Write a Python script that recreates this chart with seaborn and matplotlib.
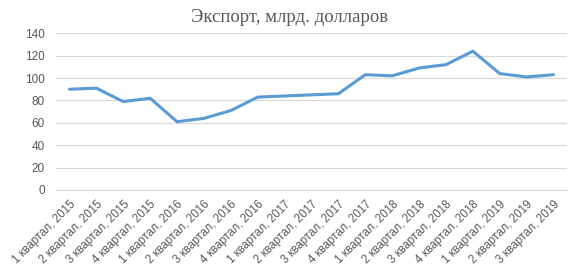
import matplotlib
matplotlib.use("Agg")
import matplotlib.pyplot as plt
import seaborn as sns
import pandas as pd

quarters = ["1 квартал", "2 квартал", "3 квартал", "4 квартал"]
years = [2015, 2015, 2015, 2015, 2016, 2016, 2016, 2016, 2017, 2017, 2017, 2017,
         2018, 2018, 2018, 2018, 2019, 2019, 2019]
labels = [f"{quarters[i % 4]}, {y}" for i, y in enumerate(years)]
export = [90, 91, 79, 82, 61, 64, 71, 83, 84, 85, 86, 103, 102, 109, 112, 124, 104, 101, 103]
title = "Экспорт, млрд. долларов"

sns.set_theme(style="whitegrid")
plt.rcParams['font.family'] = ['Liberation Sans', 'DejaVu Sans']

df = pd.DataFrame({"label": labels, "value": export, "idx": range(len(labels))})

fig = plt.figure(figsize=(5.81, 2.65), dpi=100)
ax = fig.add_axes([56/581, 1-190/265, (567-56)/581, (190-33.3)/265])
sns.lineplot(data=df, x="idx", y="value", ax=ax, color="#5B9BD5", linewidth=2.2)

ax.set_xlim(-0.5, len(labels)-0.5)
ax.set_ylim(0, 140)
ax.set_yticks(range(0, 141, 20))
ax.set_xticks(range(len(labels)))
ax.set_xticklabels(labels, rotation=45, ha="right", rotation_mode="anchor",
                   fontsize=8.3, color="#595959")
ax.tick_params(axis="y", labelsize=8.5, labelcolor="#595959", pad=8, length=0)
ax.tick_params(axis="x", pad=6, length=0)
ax.set_xlabel("")
ax.set_ylabel("")
ax.grid(axis="x", visible=False)
ax.grid(axis="y", color="#D9D9D9", linewidth=0.9)
for s in ["left", "right", "top"]:
    ax.spines[s].set_visible(False)
ax.spines["bottom"].set_color("#D9D9D9")
ax.spines["bottom"].set_linewidth(0.9)
ax.set_facecolor("white")

fig.text(290/581, 1-18/265, title, ha="center", va="center", fontsize=13.5,
         color="#595959", family=["Liberation Serif", "DejaVu Serif"])

fig.savefig("out.png", dpi=100, facecolor="white")
